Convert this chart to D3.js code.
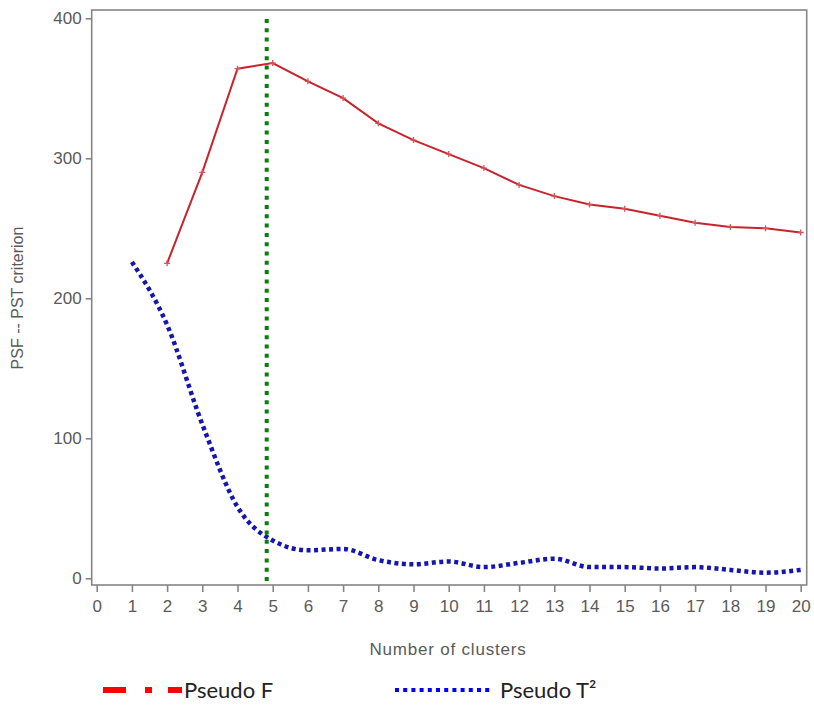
<!DOCTYPE html>
<html lang="en">
<head>
  <meta charset="utf-8">
  <title>PSF and PST criterion by number of clusters</title>
  <!-- d3 for drawing -->
  <script src="https://d3js.org/d3.v7.min.js"></script>
  <style>
    body { margin: 0; background: #fff; }
  </style>
</head>
<body>
<script>
  // cluster counts on the x axis
  var clustersF = [2, 3, 4, 5, 6, 7, 8, 9, 10, 11, 12, 13, 14, 15, 16, 17, 18, 19, 20];
  var pseudoF   = [225, 290, 364, 368, 355, 343, 325, 313, 303, 293, 281, 273, 267, 264, 259, 254, 251, 250, 247];

  var clustersT = [1, 2, 3, 4, 5, 6, 7, 8, 9, 10, 11, 12, 13, 14, 15, 16, 17, 18, 19, 20];
  var pseudoT2  = [226, 181, 110, 51, 27, 20, 21, 13, 10, 12, 8, 11, 14, 8, 8, 7, 8, 6, 4, 6];

  var xTicks = d3.range(0, 21);
  var yTicks = [0, 100, 200, 300, 400];
  var chosenK = 4.83;   // the green reference line

  var W = 814, H = 709;
  var axisFont = "'Liberation Sans', Arial, sans-serif";
  var legendFont = "Lato, 'Open Sans', sans-serif";

  var svg = d3.select("body").append("svg")
      .attr("width", W).attr("height", H);

  var plotL = 91.7, plotT = 10, plotR = 806.7, plotB = 585;

  var x = d3.scaleLinear().domain([0, 20]).range([96.7, 800.7]);
  var y = d3.scaleLinear().domain([0, 400]).range([578.3, 18.3]);

  // frame
  svg.append("rect")
      .attr("x", plotL).attr("y", plotT)
      .attr("width", plotR - plotL).attr("height", plotB - plotT)
      .attr("fill", "none").attr("stroke", "#858585").attr("stroke-width", 1.6);

  // axes
  var yAxis = svg.append("g")
      .attr("transform", "translate(" + plotL + ",0)")
      .call(d3.axisLeft(y).tickValues(yTicks).tickSize(6).tickPadding(4));
  var xAxis = svg.append("g")
      .attr("transform", "translate(0," + plotB + ")")
      .call(d3.axisBottom(x).tickValues(xTicks).tickSize(7).tickPadding(8));

  [yAxis, xAxis].forEach(function (g) {
    g.select(".domain").remove();
    g.selectAll(".tick line").attr("stroke", "#858585").attr("stroke-width", 1.6);
    g.selectAll(".tick text").attr("fill", "#5a5a5a").attr("font-size", 17)
      .attr("font-family", axisFont);
  });

  // axis titles
  svg.append("text")
      .attr("transform", "translate(23,298) rotate(-90)")
      .attr("text-anchor", "middle")
      .attr("font-family", axisFont)
      .attr("font-size", 16).attr("fill", "#5a5a5a")
      .text("PSF -- PST criterion");
  svg.append("text")
      .attr("x", 448).attr("y", 655)
      .attr("text-anchor", "middle")
      .attr("font-family", axisFont)
      .attr("font-size", 17).attr("letter-spacing", 0.8).attr("fill", "#5a5a5a")
      .text("Number of clusters");

  // Pseudo T2 (thick blue dots)
  var lineT = d3.line()
      .x(function (d, i) { return x(clustersT[i]); })
      .y(function (d) { return y(d); })
      .curve(d3.curveMonotoneX);
  svg.append("path")
      .datum(pseudoT2)
      .attr("d", lineT)
      .attr("fill", "none")
      .attr("stroke", "#1515b0")
      .attr("stroke-width", 4.5)
      .attr("stroke-dasharray", "4 3.5");

  // Pseudo F (red line with small markers)
  var lineF = d3.line()
      .x(function (d, i) { return x(clustersF[i]); })
      .y(function (d) { return y(d); });
  svg.append("path")
      .datum(pseudoF)
      .attr("d", lineF)
      .attr("fill", "none")
      .attr("stroke", "#c8232c")
      .attr("stroke-width", 2);

  svg.selectAll(".fmark")
      .data(pseudoF)
      .enter()
      .append("path")
      .attr("class", "fmark")
      .attr("transform", function (d, i) {
        return "translate(" + x(clustersF[i]) + "," + y(d) + ")";
      })
      .attr("d", "M-3,0H3M0,-3V3")
      .attr("stroke", "#d5555b")
      .attr("stroke-width", 1.3);

  // chosen number of clusters
  svg.append("line")
      .attr("x1", x(chosenK)).attr("x2", x(chosenK))
      .attr("y1", 19).attr("y2", plotB)
      .attr("stroke", "#0a7d0a")
      .attr("stroke-width", 4)
      .attr("stroke-dasharray", "4 5.3");

  // legend
  var lg = svg.append("g").attr("transform", "translate(0,690)");
  lg.append("line").attr("x1", 103).attr("x2", 126).attr("y1", 0).attr("y2", 0)
      .attr("stroke", "#ff0000").attr("stroke-width", 6);
  lg.append("line").attr("x1", 145).attr("x2", 152).attr("y1", 0).attr("y2", 0)
      .attr("stroke", "#ff0000").attr("stroke-width", 6);
  lg.append("line").attr("x1", 168).attr("x2", 182).attr("y1", 0).attr("y2", 0)
      .attr("stroke", "#ff0000").attr("stroke-width", 6);
  lg.append("text").attr("x", 184).attr("y", 8)
      .attr("font-family", legendFont)
      .attr("font-size", 22).attr("fill", "#222")
      .text("Pseudo F");

  lg.append("line").attr("x1", 395).attr("x2", 492).attr("y1", 0).attr("y2", 0)
      .attr("stroke", "#0000ff").attr("stroke-width", 4)
      .attr("stroke-dasharray", "4 4.2");
  lg.append("text").attr("x", 500).attr("y", 8)
      .attr("font-family", legendFont)
      .attr("font-size", 22).attr("fill", "#222")
      .text("Pseudo T²");
</script>
</body>
</html>
